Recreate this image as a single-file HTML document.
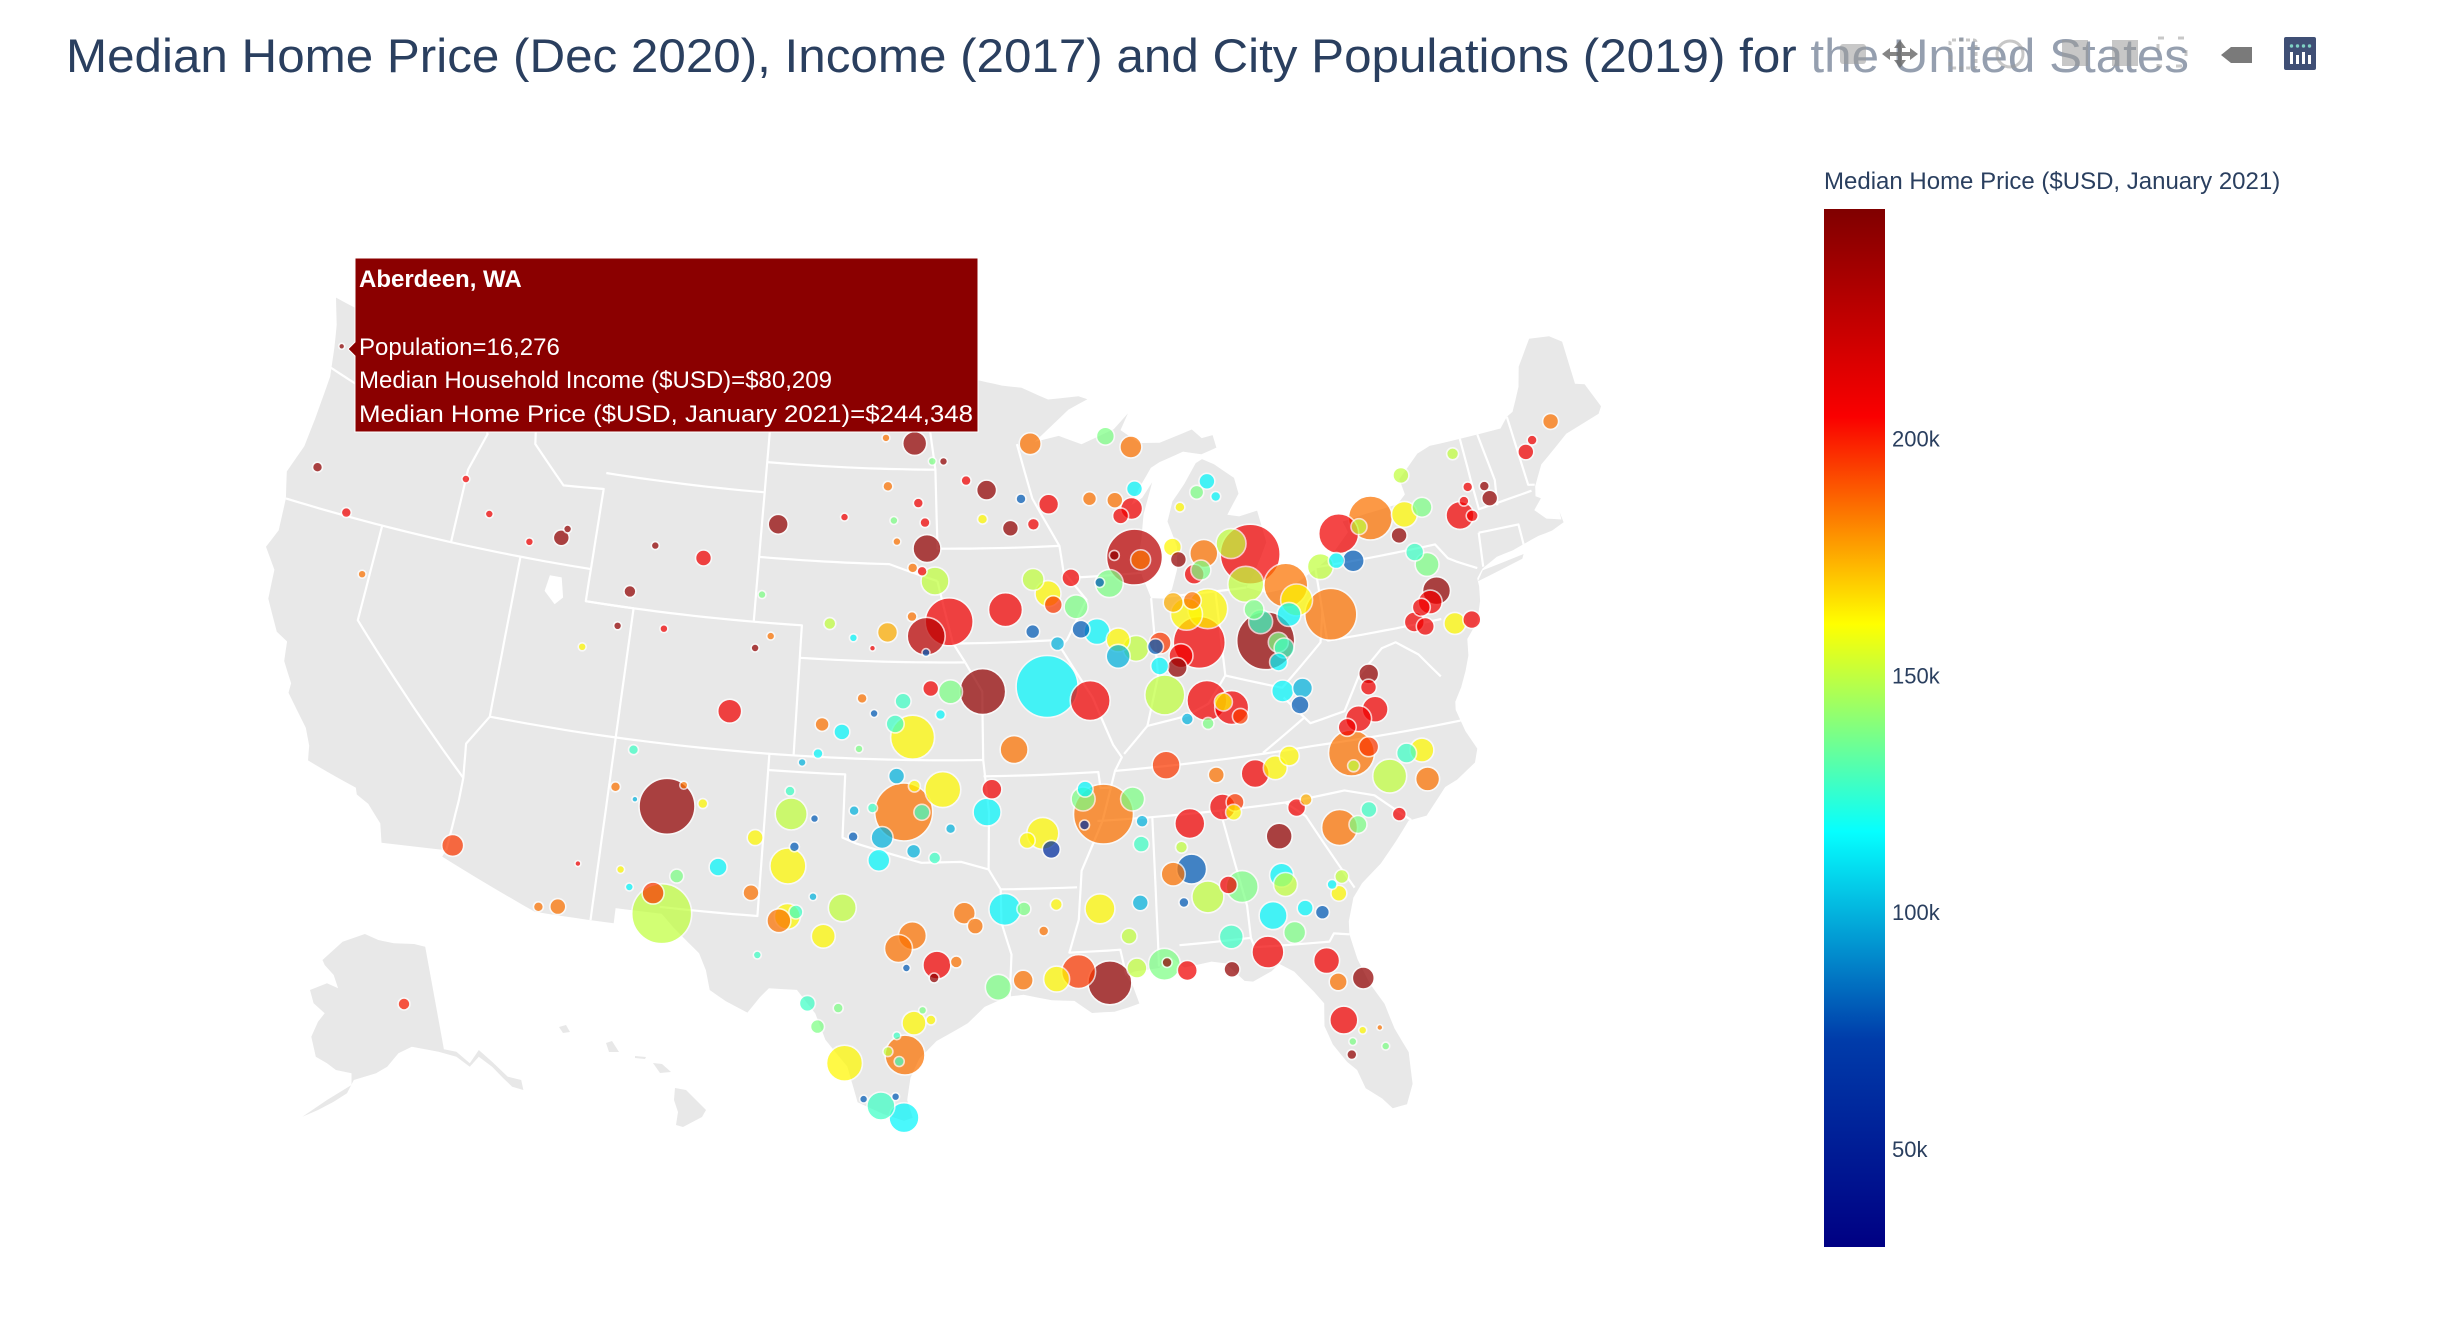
<!DOCTYPE html>
<html><head><meta charset="utf-8">
<style>
html,body{margin:0;padding:0;background:#fff;}
svg{display:block;font-family:"Liberation Sans",Arial,sans-serif;}
</style></head>
<body>
<svg id="chart" width="2448" height="1324" viewBox="0 0 2448 1324" xmlns="http://www.w3.org/2000/svg">
<defs>
<linearGradient id="jet" x1="0" y1="1" x2="0" y2="0">
<stop offset="0" stop-color="rgb(0,0,131)"/>
<stop offset="0.2" stop-color="rgb(0,60,170)"/>
<stop offset="0.4" stop-color="rgb(5,255,255)"/>
<stop offset="0.6" stop-color="rgb(255,255,0)"/>
<stop offset="0.8" stop-color="rgb(250,0,0)"/>
<stop offset="1" stop-color="rgb(128,0,0)"/>
</linearGradient>
</defs>
<g id="land"></g>
<g id="borders"></g>
<g id="bubbles"></g>
<text x="66" y="72" font-size="47" fill="#2a3f5f" textLength="2123" lengthAdjust="spacingAndGlyphs">Median Home Price (Dec 2020), Income (2017) and City Populations (2019) for the United States</text>
<g>
<rect x="1810" y="32" width="400" height="46" fill="#fff" opacity="0.5"/>
<g fill="#9a9a9a" opacity="0.55">
<rect x="1840" y="44" width="26" height="20" rx="3"/>
<rect x="1950" y="40" width="26" height="28" rx="2" fill="none" stroke="#9a9a9a" stroke-width="3" stroke-dasharray="4 3"/>
<circle cx="2010" cy="54" r="13" fill="none" stroke="#9a9a9a" stroke-width="3"/>
<rect x="2062" y="40" width="26" height="26"/>
<rect x="2112" y="40" width="26" height="26"/>
<rect x="2158" y="38" width="28" height="28" fill="none" stroke="#9a9a9a" stroke-width="3" stroke-dasharray="6 14"/>
</g>
<path d="M1900 40 L1906 48 L1902 48 L1902 52 L1910 52 L1910 48 L1918 54 L1910 60 L1910 56 L1902 56 L1902 60 L1906 60 L1900 68 L1894 60 L1898 60 L1898 56 L1890 56 L1890 60 L1882 54 L1890 48 L1890 52 L1898 52 L1898 48 L1894 48 Z" fill="#666" opacity="0.8"/>
<path d="M2221 55 L2231 47 L2252 47 L2252 63 L2231 63 Z" fill="#7a7a7a"/>
<g>
<rect x="2284" y="37" width="32" height="33" rx="2" fill="#3f4f75"/>
<g fill="#fff"><rect x="2290" y="52" width="3" height="12"/><rect x="2296" y="55" width="3" height="9"/><rect x="2302" y="52" width="3" height="12"/><rect x="2308" y="55" width="3" height="9"/></g>
<g fill="#7fd1c4"><circle cx="2291.5" cy="46" r="1.7"/><circle cx="2297.5" cy="46" r="1.7"/><circle cx="2303.5" cy="46" r="1.7"/><circle cx="2309.5" cy="46" r="1.7"/></g>
</g>
</g>
<g>
<text x="1824" y="189" font-size="24" fill="#2a3f5f">Median Home Price ($USD, January 2021)</text>
<rect x="1824" y="209" width="61" height="1038" fill="url(#jet)"/>
<g id="cbticks"></g>
</g>
<g>
<path d="M348 349 L355 342 L355 258 L978 258 L978 432 L355 432 L355 356 Z" fill="#8b0000" stroke="#fff" stroke-width="1"/>
<text x="359" y="287" font-size="24" font-weight="bold" fill="#fff">Aberdeen, WA</text>
<text x="359" y="355" font-size="24" fill="#fff">Population=16,276</text>
<text x="359" y="388" font-size="24" fill="#fff">Median Household Income ($USD)=$80,209</text>
<text x="359" y="422" font-size="24" fill="#fff" textLength="614" lengthAdjust="spacingAndGlyphs">Median Home Price ($USD, January 2021)=$244,348</text>
</g>
</svg>
<script>
// ---- data ----
const lons=[-123.8,-123.3,-121.6,-120.3,-117.0,-115.7,-113.8,-112.5,-112.3,-108.5,
-106.4,-109.3,-109.6,-107.7,-110.9,-103.3,-103.9,-104.7,-108.3,-103.35,
-100.5,-98.35,-97.3,-97.0,-98.65,-96.9,-98.2,-97.5,-96.2,-96.7,
-98.8,-97.5,-97.1,-96.55,-95.95,-96.9,-97.5,-98.5,-100.9,-99.9,
-99.1,-96.9,-103.8,-99.45,-98.95,-97.8,-96.7,-95.9,-96.3,-98.1,
-97.4,-101.0,-100.2,-99.5,-101.1,-101.7,-102.1,-98.0,-97.3,-106.75,
-108.8,-106.2,-105.4,-108.0,-102.0,-101.1,-103.3,-102.0,-101.8,-104.6,
-106.1,-106.9,-106.5,-107.8,-108.2,-109.8,-110.3,-111.0,-114.5,-103.3,
-102.2,-101.9,-101.6,-99.9,-100.55,-101.0,-102.9,-98.6,-98.5,-97.7,
-97.0,-97.3,-96.5,-99.6,-99.6,-98.9,-95.9,-96.2,-97.3,-97.8,
-95.7,-96.4,-96.5,-97.5,-97.2,-96.9,-96.6,-97.5,-99.6,-97.7,
-98.1,-97.8,-101.0,-100.6,-99.9,-98.3,-97.5,-98.9,-97.8,-95.0,
-93.9,-95.4,-92.3,-88.9,-87.8,-94.3,-91.6,-89.8,-88.7,-88.0,
-88.5,-87.8,-88.05,-87.8,-88.9,-93.6,-91.8,-91.6,-90.65,-92.4,
-90.8,-89.2,-89.6,-92.0,-90.3,-94.6,-89.85,-89.0,-88.3,-89.05,
-87.5,-87.4,-90.5,-92.5,-91.5,-85.7,-86.5,-86.7,-87.3,-86.1,
-85.2,-86.6,-85.8,-85.65,-87.3,-84.7,-85.0,-84.4,-85.7,-86.5,
-83.0,-83.15,-83.5,-81.85,-81.5,-81.9,-83.3,-83.1,-82.5,-82.3,
-82.6,-80.2,-79.3,-77.85,-76.4,-75.6,-78.4,-74.1,-75.75,-76.9,
-76.1,-76.5,-76.5,-75.3,-74.6,-78.9,-80.3,-79.6,-75.9,-76.3,
-76.8,-76.2,-70.7,-70.3,-69.3,-72.7,-72.8,-73.5,-73.8,-73.8,
-73.6,-85.1,-83.9,-86.2,-86.4,-85.6,-85.3,-85.9,-85.1,-84.3,
-84.6,-82.6,-81.8,-82.0,-79.1,-79.2,-79.1,-79.8,-80.3,-87.5,
-84.1,-93.4,-94.3,-94.5,-80.3,-79.6,-80.3,-79.0,-78.2,-77.6,
-77.6,-83.3,-82.7,-85.6,-90.05,-92.4,-92.1,-93.0,-88.9,-90.8,
-90.7,-88.7,-88.6,-90.8,-86.8,-85.5,-85.0,-85.1,-87.2,-86.9,
-87.6,-86.4,-85.1,-85.6,-87.3,-83.5,-83.6,-83.5,-84.1,-82.9,
-82.3,-83.4,-85.7,-84.45,-85.8,-87.4,-88.2,-88.1,-91.3,-90.2,
-92.1,-93.3,-94.2,-89.2,-90.4,-88.9,-89.4,-93.2,-92.0,-92.5,
-81.2,-80.5,-80.0,-78.9,-82.7,-82.3,-81.4,-81.6,-81.8,-82.4,
-82.1,-81.2,-82.1,-82.0,-80.8,-81.9,-81.5,-80.9,-93.3,-92.3,
-92.8,-94.5,-95.2];
const lats=[47.0,43.2,42.1,40.4,44.0,43.1,42.5,42.8,43.1,43.0,
42.8,41.5,40.4,40.5,39.6,40.6,40.2,38.2,36.7,44.05,
44.4,44.35,44.9,44.3,45.4,43.5,43.7,46.75,46.2,46.2,
46.9,42.9,42.8,42.5,41.25,40.8,41.4,40.9,41.1,40.7,
40.4,40.3,41.85,38.85,38.4,38.8,39.2,39.1,38.4,38.1,
37.7,38.0,37.8,37.3,37.1,36.8,35.9,36.5,36.2,35.1,
35.5,35.8,35.3,35.2,35.2,35.1,34.4,33.6,34.2,33.4,
33.0,32.4,31.8,32.5,33.0,33.0,31.6,31.5,32.9,32.7,
31.9,32.05,32.2,32.4,31.5,32.7,30.8,33.9,34.6,35.4,
35.4,34.2,34.0,34.6,35.4,35.5,34.9,36.1,31.6,31.2,
30.8,30.7,30.3,30.6,28.9,29.3,29.0,27.9,27.6,27.7,
28.0,28.5,29.4,28.7,29.3,26.3,25.95,26.5,26.6,31.9,
32.4,32.3,46.7,46.8,46.4,45.3,44.8,44.9,44.8,44.5,
44.3,45.1,43.0,42.9,43.1,41.6,42.05,41.7,41.6,42.5,
42.5,42.25,42.3,39.2,38.7,39.1,40.8,40.5,40.2,40.0,
40.2,39.6,40.9,40.9,40.5,40.2,39.85,39.5,40.3,41.1,
41.2,41.5,41.5,38.4,38.7,38.1,38.3,37.8,37.7,37.9,
40.0,42.7,41.8,41.6,41.1,40.7,41.0,40.6,39.9,39.7,
39.3,40.5,42.9,43.2,43.1,43.2,43.0,42.7,40.6,39.8,
40.3,40.2,39.6,39.5,39.5,42.0,42.0,42.1,41.45,41.9,
42.5,44.3,44.1,44.4,44.8,43.0,43.4,43.5,43.1,44.6,
42.6,42.9,43.1,42.8,43.2,42.3,42.4,44.4,44.8,44.6,
45.1,38.4,38.4,37.9,38.5,38.1,37.4,37.2,37.0,36.55,
36.0,37.3,36.1,35.4,36.2,36.3,35.8,35.3,35.9,35.9,
35.0,36.1,36.4,36.1,35.2,34.7,34.2,34.5,35.6,35.7,
36.0,34.2,34.9,34.9,34.7,35.1,35.2,34.9,34.0,33.3,
33.2,32.4,32.6,32.7,32.3,34.0,32.8,32.5,31.6,31.7,
31.5,31.0,31.1,30.5,30.1,30.2,30.45,30.5,30.4,30.0,
30.2,30.2,30.0,30.4,32.3,32.4,31.4,32.4,32.5,31.7,
34.0,34.0,34.4,34.1,34.8,35.0,32.5,32.0,32.3,30.0,
29.3,29.3,28.1,27.0,27.1,27.4,27.7,27.7,44.1,44.2,
45.0,44.4,45.6];
const pops=[16,45,45,29,29,29,29,116,29,29,
116,65,29,29,29,29,29,261,45,181,
29,29,45,45,45,355,29,261,29,29,
29,45,45,355,1043,654,45,181,65,29,
16,29,29,45,29,116,116,261,45,147,
876,89,116,29,45,29,45,116,65,1420,
45,29,45,16,464,29,116,587,45,147,
89,219,1630,29,29,16,116,45,219,116,
261,306,89,355,261,29,29,219,219,1523,
116,89,65,45,45,45,45,587,355,355,
65,355,45,29,261,29,45,724,587,45,
45,29,116,89,45,355,407,29,29,116,
464,219,219,147,219,181,181,89,116,219,
116,116,1420,181,45,523,306,147,261,219,
147,355,45,1740,724,958,306,261,306,261,
116,147,147,89,89,1224,261,181,219,464,
724,181,147,724,724,523,147,116,65,65,
1523,1630,587,876,464,261,181,261,181,181,
147,1224,724,876,306,181,116,355,355,181,
261,147,147,219,147,219,306,116,261,147,
116,116,116,45,116,116,45,45,45,65,
65,355,407,116,147,181,181,45,89,45,
116,219,181,147,181,116,306,306,147,355,
355,355,181,355,958,181,65,523,181,261,
261,261,181,116,1630,464,147,116,261,261,
116,116,65,45,407,306,147,116,65,407,
261,464,464,147,45,306,261,261,355,116,
89,219,261,464,116,181,464,45,523,876,
306,181,306,181,407,116,116,89,65,45,
587,147,116,89,147,65,89,116,45,306,
147,219,355,45,29,29,29,16,116,65,
45,45,45];
const prices=[244.348,242,208,185,208,208,208,242,242,242,
208,242,242,208,162,185,242,208,127,242,
208,138,208,208,185,242,185,242,242,138,
185,185,208,150,208,228,185,175,150,115,
208,80,138,185,80,127,208,138,115,127,
162,185,115,138,115,100,127,100,162,242,
185,185,162,100,150,80,162,162,80,115,
138,195,150,115,162,208,185,185,195,185,
185,162,127,150,162,100,127,115,100,185,
127,100,127,80,100,127,100,162,185,185,
185,208,242,80,162,138,162,185,162,127,
150,127,127,138,138,127,115,80,80,185,
115,185,185,138,185,242,208,185,185,208,
208,115,228,185,242,208,162,195,138,150,
208,138,80,115,208,242,115,162,150,100,
80,115,80,80,100,208,208,242,195,162,
162,175,185,208,150,208,162,195,138,100,
242,208,150,185,162,115,138,127,138,127,
115,185,208,185,162,138,150,208,242,208,
208,208,208,162,208,80,150,115,138,127,
242,150,208,208,185,242,242,208,208,150,
208,185,150,242,162,208,138,162,138,115,
115,115,100,80,242,208,208,208,208,195,
208,185,208,115,185,195,150,150,127,162,
185,162,162,185,185,162,62,162,138,138,
115,127,100,62,208,208,195,162,150,80,
185,150,138,208,80,242,115,150,115,115,
80,138,127,208,242,208,138,242,195,242,
162,185,138,150,162,100,150,138,162,185,
185,138,127,208,208,175,150,162,115,208,
185,242,208,242,138,138,162,185,242,208,
80,162,208];
const akLon=[-149.9], akLat=[61.2], akPop=[65], akPrice=[200];
const tickVals=[50,100,150,200];
const tickLabels=['50k','100k','150k','200k'];
const cmin=29.3, cmax=248.5;

// ---- projection (Albers USA, fitted to frame) ----
const NS='http://www.w3.org/2000/svg';
function proj(lon,lat){
  const n=0.60285,C=1.3513,r0=1.3033,d=Math.PI/180;
  const rho=Math.sqrt(C-2*n*Math.sin(lat*d))/n;
  const th=n*(lon+96)*d;
  return [948+1850*rho*Math.sin(th), 744-1850*(r0-rho*Math.cos(th))];
}
function akProj(lon,lat){ return [404+(lon+149.9)*6.5, 1004-(lat-61.2)*11]; }
function dens(pts){
  const out=[];
  for(let i=0;i<pts.length;i++){
    const a=pts[i], b=pts[(i+1)%pts.length];
    out.push(a);
    const s=Math.ceil(Math.max(Math.abs(b[0]-a[0]),Math.abs(b[1]-a[1]))/0.5);
    for(let k=1;k<s;k++) out.push([a[0]+(b[0]-a[0])*k/s, a[1]+(b[1]-a[1])*k/s]);
  }
  return out;
}
function pathLL(pts){
  const p=dens(pts).map(q=>proj(q[0],q[1]));
  return 'M'+p.map(q=>q[0].toFixed(1)+' '+q[1].toFixed(1)).join(' L')+' Z';
}
function lineLL(pts){
  const out=[];
  for(let i=0;i<pts.length-1;i++){
    const a=pts[i],b=pts[i+1];
    const s=Math.max(1,Math.ceil(Math.max(Math.abs(b[0]-a[0]),Math.abs(b[1]-a[1]))/0.5));
    for(let k=0;k<s;k++) out.push([a[0]+(b[0]-a[0])*k/s, a[1]+(b[1]-a[1])*k/s]);
  }
  out.push(pts[pts.length-1]);
  return 'M'+out.map(q=>{const p=proj(q[0],q[1]);return p[0].toFixed(1)+' '+p[1].toFixed(1);}).join(' L');
}
const us=[[-123.0,49.0],[-95.15,49.0],[-95.15,49.38],[-94.8,49.3],[-94.6,48.72],[-93.5,48.54],[-92.6,48.45],[-91.4,48.05],[-90.0,48.1],[-89.6,47.99],[-90.5,47.7],[-92.1,46.75],[-91.0,46.9],[-90.0,46.6],[-88.5,47.0],[-87.8,47.45],[-88.2,46.95],[-87.4,46.5],[-86.5,46.45],[-85.0,46.75],[-84.6,46.45],[-84.1,46.5],[-84.0,46.1],[-84.7,45.95],[-85.5,46.1],[-86.6,45.85],[-87.0,45.7],[-87.6,45.1],[-88.0,44.6],[-87.5,44.8],[-87.0,45.25],[-87.5,44.3],[-87.7,43.5],[-87.9,43.0],[-87.8,42.4],[-87.5,41.7],[-87.0,41.65],[-86.6,41.9],[-86.3,42.5],[-86.2,43.2],[-86.5,44.0],[-86.2,44.6],[-85.6,45.1],[-85.0,45.7],[-84.7,45.8],[-84.2,45.6],[-83.4,45.1],[-83.3,44.6],[-83.9,44.0],[-83.4,43.9],[-82.6,44.0],[-82.4,43.0],[-82.7,42.6],[-83.1,42.1],[-83.5,41.7],[-82.7,41.45],[-81.7,41.5],[-80.5,41.95],[-79.8,42.25],[-78.9,42.9],[-79.05,43.25],[-78.0,43.35],[-76.6,43.45],[-76.2,43.7],[-76.3,44.2],[-75.3,44.85],[-74.7,45.0],[-71.5,45.0],[-71.1,45.3],[-70.8,45.4],[-70.25,46.1],[-70.0,46.7],[-69.2,47.45],[-68.3,47.35],[-67.8,47.07],[-67.8,45.7],[-67.4,45.6],[-67.0,44.8],[-67.2,44.6],[-68.8,44.3],[-69.8,43.8],[-70.2,43.6],[-70.7,43.0],[-70.8,42.7],[-70.6,42.6],[-71.0,42.3],[-70.6,41.95],[-70.0,41.8],[-70.0,42.05],[-69.95,41.7],[-70.5,41.55],[-71.1,41.5],[-71.4,41.45],[-72.3,41.27],[-73.0,41.2],[-73.7,40.95],[-74.0,40.7],[-74.0,40.45],[-74.1,40.0],[-74.4,39.4],[-74.95,38.95],[-75.05,38.45],[-75.3,38.0],[-75.6,37.55],[-75.95,37.15],[-76.0,36.9],[-75.8,36.2],[-75.5,35.6],[-75.7,35.2],[-76.5,34.8],[-77.0,34.65],[-77.9,33.9],[-78.6,33.85],[-79.2,33.3],[-79.9,32.7],[-80.7,32.2],[-81.1,31.8],[-81.4,31.1],[-81.45,30.7],[-81.3,29.9],[-81.0,29.1],[-80.6,28.4],[-80.4,27.6],[-80.05,26.8],[-80.1,25.8],[-80.4,25.2],[-80.9,25.15],[-81.2,25.5],[-81.7,25.9],[-81.9,26.5],[-82.2,26.8],[-82.6,27.4],[-82.8,28.0],[-82.7,28.7],[-83.0,29.1],[-83.6,29.8],[-84.1,30.1],[-84.4,29.9],[-85.1,29.65],[-85.4,29.7],[-86.0,30.3],[-86.5,30.4],[-87.5,30.3],[-88.0,30.7],[-88.4,30.35],[-89.3,30.3],[-89.6,30.2],[-89.4,29.9],[-89.2,29.3],[-89.6,29.2],[-90.1,29.1],[-90.9,29.1],[-91.5,29.5],[-92.3,29.55],[-93.3,29.75],[-93.9,29.7],[-94.7,29.4],[-95.3,28.9],[-96.4,28.35],[-97.0,27.8],[-97.3,27.2],[-97.4,26.5],[-97.2,25.95],[-97.5,25.85],[-98.2,26.05],[-99.1,26.4],[-99.5,27.5],[-100.3,28.3],[-100.7,29.1],[-101.4,29.8],[-102.4,29.8],[-102.7,29.5],[-103.1,29.0],[-103.9,29.3],[-104.5,29.6],[-104.7,30.2],[-105.0,30.7],[-106.0,31.4],[-106.5,31.8],[-108.2,31.8],[-108.2,31.33],[-111.1,31.33],[-114.8,32.5],[-114.7,32.72],[-117.1,32.53],[-117.3,33.1],[-117.9,33.6],[-118.4,33.8],[-118.5,34.0],[-119.2,34.15],[-120.5,34.45],[-120.6,34.9],[-120.9,35.4],[-121.9,36.3],[-121.9,36.6],[-122.4,37.2],[-122.5,37.8],[-123.0,38.0],[-123.7,38.9],[-123.8,39.8],[-124.4,40.4],[-124.1,41.0],[-124.2,42.0],[-124.5,42.8],[-124.1,43.7],[-124.0,44.6],[-123.9,46.0],[-124.1,46.9],[-124.3,47.6],[-124.7,48.4],[-123.2,48.2],[-122.8,48.0],[-122.5,48.3],[-122.8,49.0]];
const longIsland=[[-74.0,40.6],[-72.0,40.95],[-71.9,41.08],[-73.7,40.9]];
const salt=[[-112.7,41.6],[-112.2,41.6],[-112.0,41.0],[-112.3,40.75],[-112.8,41.1]];
const alaska=[[322.5,960],[342.6,941.7],[364.9,934],[378.3,940],[393.9,943.3],[414,944],[425.2,946.7],[443.9,1049.3],[456.4,1051.7],[469.8,1063.3],[478.8,1050],[492.1,1061.7],[507.8,1076.7],[521.2,1080],[523.4,1090],[512.2,1086.7],[503.3,1078.3],[492.1,1066.7],[478.8,1056.7],[469.8,1066.7],[456.4,1056.7],[438.6,1051.7],[411.8,1046.7],[398.4,1053.3],[387.2,1066.7],[376.1,1073.3],[353.8,1080],[347,1093.3],[333.7,1101.7],[318,1110],[302.4,1116.7],[327,1100],[351.5,1085],[351.5,1073.3],[335.9,1070],[327,1063.3],[315.8,1056.7],[311.3,1036.7],[318,1021.7],[324.7,1013.3],[313.6,1003.3],[310,990],[327,983.3],[338.1,988.3],[333.7,975],[324.7,965]];
const hawaii=[[[559,1027],[566,1025],[570,1032],[563,1033]],[[606,1043],[612,1041],[619,1052],[609,1052]],[[635,1056],[646,1057],[645,1059],[635,1058]],[[653,1063],[662,1064],[671,1072],[660,1073]],[[675,1088],[686,1090],[706,1110],[702,1117],[683,1127],[676,1125],[678,1112],[674,1100]]];
const borderLines=[
[[-124.0,46.27],[-121.0,45.65],[-119.0,46.0],[-116.92,46.0]],
[[-117.04,49.0],[-117.04,46.42],[-116.92,46.0],[-116.5,45.5],[-117.0,44.3],[-117.03,42.0]],
[[-124.2,42.0],[-111.05,42.0]],
[[-120.0,42.0],[-120.0,39.0],[-114.6,35.0]],
[[-114.05,42.0],[-114.05,37.0],[-114.75,36.05],[-114.6,35.0],[-114.6,34.3],[-114.7,32.72]],
[[-116.05,49.0],[-116.05,47.98],[-115.7,47.4],[-114.6,46.65],[-114.35,45.5],[-113.5,44.9],[-112.8,44.4],[-111.05,44.5],[-111.05,41.0],[-109.05,41.0],[-109.05,31.33]],
[[-114.05,37.0],[-94.62,37.0]],
[[-111.05,45.0],[-104.05,45.0]],
[[-104.05,49.0],[-104.05,41.0]],
[[-111.05,41.0],[-102.05,41.0],[-102.05,37.0]],
[[-102.05,40.0],[-95.3,40.0]],
[[-103.0,37.0],[-103.0,32.0],[-106.6,32.0]],
[[-103.0,36.5],[-100.0,36.5],[-100.0,34.56],[-99.5,34.4],[-97.0,33.85],[-95.5,33.88],[-94.48,33.64]],
[[-94.62,37.0],[-94.43,35.4],[-94.48,33.64],[-94.04,33.02],[-94.04,32.0],[-93.7,31.0],[-93.8,29.7]],
[[-104.05,45.94],[-96.56,45.94]],
[[-104.05,43.0],[-98.5,43.0],[-96.45,42.5]],
[[-97.2,49.0],[-96.56,45.94],[-96.45,43.5],[-91.22,43.5]],
[[-96.45,42.5],[-95.8,40.6],[-95.3,40.0]],
[[-95.77,40.58],[-91.73,40.61]],
[[-92.9,46.7],[-92.3,45.0],[-91.22,43.5],[-91.1,42.7],[-90.2,41.8],[-91.1,40.6],[-91.4,40.4],[-90.2,38.8],[-89.5,37.3],[-89.2,36.9],[-89.5,36.5],[-90.1,35.0],[-91.0,33.5],[-91.2,32.0],[-91.6,31.0],[-89.75,31.0],[-89.6,30.2]],
[[-94.62,37.0],[-94.62,39.1],[-95.3,40.0]],
[[-94.62,36.5],[-90.15,36.5],[-90.1,36.0],[-89.7,36.0]],
[[-94.04,33.02],[-91.2,33.0]],
[[-88.2,35.0],[-88.4,30.4]],
[[-90.3,35.0],[-84.3,35.0],[-83.1,35.0],[-80.8,35.1],[-79.7,34.8],[-78.5,33.85]],
[[-89.5,36.5],[-81.7,36.6],[-75.9,36.55]],
[[-85.6,35.0],[-85.0,32.0],[-85.0,31.0]],
[[-87.6,31.0],[-85.0,31.0],[-84.9,30.7],[-82.2,30.57],[-82.0,30.8],[-81.45,30.7]],
[[-83.1,35.0],[-82.4,34.5],[-81.0,32.1]],
[[-90.6,42.5],[-87.8,42.5]],
[[-87.5,41.7],[-87.5,39.3],[-88.1,37.8]],
[[-89.1,37.0],[-88.1,37.8],[-86.5,38.0],[-85.6,38.3],[-84.8,39.1],[-82.6,38.5],[-80.8,39.7],[-80.52,40.64]],
[[-84.8,39.1],[-84.8,41.7]],
[[-87.0,41.7],[-83.5,41.7]],
[[-80.52,39.72],[-80.52,42.0],[-75.4,42.0],[-75.0,41.5],[-74.7,41.35],[-73.9,41.0]],
[[-80.52,39.72],[-75.8,39.72]],
[[-82.6,38.2],[-81.7,37.3],[-80.3,37.5],[-79.5,38.5],[-78.4,39.2],[-77.8,39.3],[-77.0,38.8],[-76.3,38.0]],
[[-81.9,37.5],[-83.7,36.6]],
[[-72.55,45.0],[-72.3,43.5],[-72.46,42.73]],
[[-73.34,45.0],[-73.3,43.6],[-73.26,42.75],[-70.9,42.9]],
[[-73.5,42.05],[-71.8,42.0],[-71.8,41.3]],
[[-73.5,42.05],[-73.65,41.0]],
[[-71.1,45.3],[-70.97,43.1],[-70.7,43.05]]
];

// ---- draw map ----
const land=document.getElementById('land');
function addPath(parent,d,fill,stroke,sw,name){
  const p=document.createElementNS(NS,'path');
  p.setAttribute('d',d);p.setAttribute('fill',fill);
  if(stroke){p.setAttribute('stroke',stroke);p.setAttribute('stroke-width',sw);p.setAttribute('stroke-linejoin','round');}
  
  
  parent.appendChild(p);return p;
}
addPath(land,pathLL(us),'#e8e8e8',null,0,'contiguous-us');
addPath(land,pathLL(longIsland),'#e8e8e8',null,0,'long-island');
addPath(land,pathLL(salt),'#ffffff',null,0,'great-salt-lake');
addPath(land,'M'+alaska.map(q=>q.join(' ')).join(' L')+' Z','#e8e8e8',null,0,'alaska');
hawaii.forEach(isl=>{addPath(land,'M'+isl.map(q=>q.join(' ')).join(' L')+' Z','#e8e8e8',null,0,'hawaii-island');});
const borders=document.getElementById('borders');
borderLines.forEach(l=>{addPath(borders,lineLL(l),'none','#ffffff',2.2,'state-border');});

// ---- color scale ----
const stops=[[0,[0,0,131]],[0.2,[0,60,170]],[0.4,[5,255,255]],[0.6,[255,255,0]],[0.8,[250,0,0]],[1,[128,0,0]]];
function colorOf(v){
  let f=(v-cmin)/(cmax-cmin);f=Math.max(0,Math.min(1,f));
  for(let i=0;i<stops.length-1;i++){
    const a=stops[i],b=stops[i+1];
    if(f<=b[0]){const t=(f-a[0])/(b[0]-a[0]);
      const c=a[1].map((x,k)=>Math.round(x+(b[1][k]-x)*t));
      return 'rgb('+c.join(',')+')';}
  }
  return 'rgb(128,0,0)';
}
function radius(popK){return Math.max(2.5,0.743*Math.sqrt(popK));}

// ---- bubbles ----
const g=document.getElementById('bubbles');
const idx=lons.map((_,i)=>i).sort((a,b)=>pops[b]-pops[a]);
idx.forEach(i=>{
  const p=proj(lons[i],lats[i]);
  const c=document.createElementNS(NS,'circle');
  c.setAttribute('cx',p[0].toFixed(1));c.setAttribute('cy',p[1].toFixed(1));
  c.setAttribute('r',radius(pops[i]).toFixed(1));
  c.setAttribute('fill',colorOf(prices[i]));
  c.setAttribute('stroke','#ffffff');c.setAttribute('stroke-width','1.6');
  c.setAttribute('opacity','0.72');
  
  
  g.appendChild(c);
});
akLon.forEach((lon,i)=>{
  const p=akProj(lon,akLat[i]);
  const c=document.createElementNS(NS,'circle');
  c.setAttribute('cx',p[0]);c.setAttribute('cy',p[1]);
  c.setAttribute('r',radius(akPop[i]).toFixed(1));
  c.setAttribute('fill',colorOf(akPrice[i]));
  c.setAttribute('stroke','#ffffff');c.setAttribute('stroke-width','1.6');
  c.setAttribute('opacity','0.72');
  
  
  g.appendChild(c);
});

// ---- colorbar ticks ----
const cb=document.getElementById('cbticks');
function cbY(v){return 1247-(v-cmin)/(cmax-cmin)*1038;}
tickVals.forEach((v,i)=>{
  const t=document.createElementNS(NS,'text');
  t.setAttribute('x','1892');t.setAttribute('y',(cbY(v)+8).toFixed(1));
  t.setAttribute('font-size','22');t.setAttribute('fill','#2a3f5f');
  t.textContent=tickLabels[i];
  
  
  cb.appendChild(t);
});
</script>
</body></html>
